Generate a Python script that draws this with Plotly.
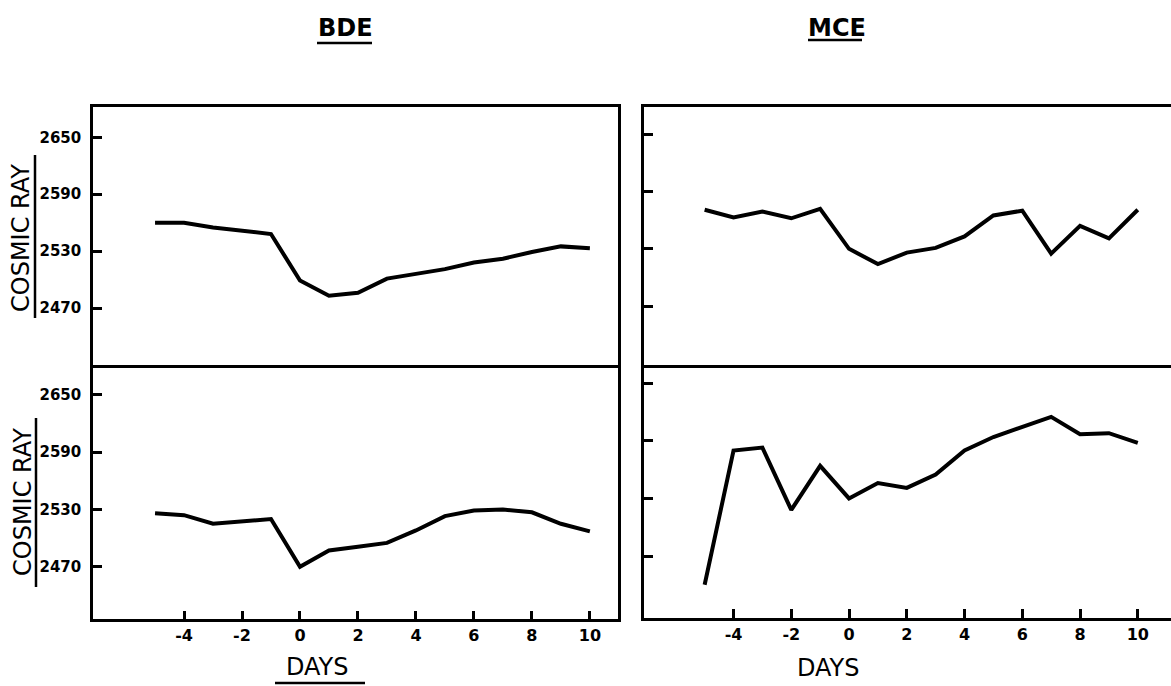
import plotly.graph_objects as go

# ---------------- data ----------------
days = [-5, -4, -3, -2, -1, 0, 1, 2, 3, 4, 5, 6, 7, 8, 9, 10]
bde_top = [2560, 2560, 2555, 2551, 2548, 2499, 2483, 2486, 2501, 2506, 2511, 2518, 2522, 2529, 2535, 2533]
mce_top = [2571, 2563, 2569, 2562, 2572, 2530, 2514, 2526, 2531, 2543, 2565, 2570, 2525, 2554, 2541, 2571]
bde_bottom = [2526, 2524, 2515, 2518, 2520, 2470, 2487, 2491, 2495, 2508, 2523, 2529, 2530, 2527, 2515, 2507]
mce_bottom = [2440, 2580, 2583, 2518, 2564, 2530, 2546, 2541, 2555, 2580, 2594, 2605, 2615, 2597, 2598, 2588]

x_tickvals = [-4, -2, 0, 2, 4, 6, 8, 10]
x_ticktext = ["-4", "-2", "0", "2", "4", "6", "8", "10"]
y_tickvals = [2470, 2530, 2590, 2650]
y_ticktext = ["2470", "2530", "2590", "2650"]
panel_titles = ["BDE", "MCE"]
y_title = "COSMIC RAY"
x_title = "DAYS"

# ---------------- layout helpers ----------------
W, H = 1171, 686
def fx(px):
    return px / W
def fy(py):
    return 1 - py / H

FONT = "DejaVu Sans"
LINE_W = 2.5

fig = go.Figure()
series = [(bde_top, "x", "y"), (mce_top, "x2", "y2"),
          (bde_bottom, "x3", "y3"), (mce_bottom, "x4", "y4")]
for vals, xa, ya in series:
    fig.add_trace(go.Scatter(x=days, y=vals, mode="lines", xaxis=xa, yaxis=ya,
                             line=dict(color="black", width=4), hoverinfo="skip"))

def ax(**kw):
    base = dict(showgrid=False, zeroline=False, showline=True, linecolor="black",
                linewidth=LINE_W, ticks="inside", ticklen=9, tickwidth=LINE_W,
                tickcolor="black", fixedrange=True)
    base.update(kw)
    return base

left_dom = [fx(93), fx(618)]
right_dom = [fx(644), 1.0]
left_range = [-7.14, 10.97]
right_range = [-7.10, 11.15]
ytickfont = dict(family=FONT, size=15, color="black", weight="bold")
xtickfont = dict(family=FONT, size=16, color="black", weight="bold")

fig.update_layout(
    width=W, height=H, margin=dict(l=0, r=0, t=0, b=0),
    plot_bgcolor="white", paper_bgcolor="white", showlegend=False,
    xaxis=ax(domain=left_dom, range=left_range, anchor="y", mirror=True,
             ticks="", showticklabels=False),
    yaxis=ax(domain=[fy(365), fy(106.7)], range=[2409.9, 2682.3], anchor="x",
             mirror=True, tickvals=y_tickvals, ticktext=y_ticktext,
             tickfont=ytickfont, ticklabelstandoff=6),
    xaxis2=ax(domain=right_dom, range=right_range, anchor="y2", mirror=True,
              ticks="", showticklabels=False),
    yaxis2=ax(domain=[fy(365), fy(106.7)], range=[2408.2, 2679], anchor="x2",
              tickvals=y_tickvals, showticklabels=False),
    xaxis3=ax(domain=left_dom, range=left_range, anchor="y3", mirror=False,
              tickvals=x_tickvals, ticktext=x_ticktext, tickfont=xtickfont,
              ticklabelstandoff=0),
    yaxis3=ax(domain=[fy(619.3), fy(365)], range=[2414.9, 2681.4], anchor="x3",
              mirror=True, tickvals=y_tickvals, ticktext=y_ticktext,
              tickfont=ytickfont, ticklabelstandoff=6),
    xaxis4=ax(domain=right_dom, range=right_range, anchor="y4", mirror=False,
              tickvals=x_tickvals, ticktext=x_ticktext, tickfont=xtickfont,
              ticklabelstandoff=0),
    yaxis4=ax(domain=[fy(617.7), fy(365)], range=[2405.7, 2669.1], anchor="x4",
              tickvals=y_tickvals, showticklabels=False),
)

annos = [
    dict(text=panel_titles[0], x=fx(345), y=fy(28), size=24, bold=True, angle=0),
    dict(text=panel_titles[1], x=fx(837), y=fy(28), size=24, bold=True, angle=0),
    dict(text=y_title, x=fx(21), y=fy(238), size=24, bold=False, angle=-90),
    dict(text=y_title, x=fx(23), y=fy(502), size=24, bold=False, angle=-90),
    dict(text=x_title, x=fx(317.5), y=fy(667), size=24, bold=False, angle=0),
    dict(text=x_title, x=fx(828), y=fy(668), size=24, bold=False, angle=0),
]
for a in annos:
    fig.add_annotation(text=a["text"], x=a["x"], y=a["y"], xref="paper", yref="paper",
                       xanchor="center", yanchor="middle", showarrow=False,
                       textangle=a["angle"],
                       font=dict(family=FONT, size=a["size"], color="black",
                                 weight="bold" if a["bold"] else "normal"))

underlines = [((317, 43), (372, 43)), ((808, 40), (862, 40)),
              ((35, 155), (35, 318)), ((36, 418), (36, 587)),
              ((275, 683), (365, 683))]
for (x0, y0), (x1, y1) in underlines:
    fig.add_shape(type="line", xref="paper", yref="paper",
                  x0=fx(x0), y0=fy(y0), x1=fx(x1), y1=fy(y1),
                  line=dict(color="black", width=LINE_W))

fig.write_html("out.html", config={"displayModeBar": False},
               post_script="document.body.style.margin='0';")
